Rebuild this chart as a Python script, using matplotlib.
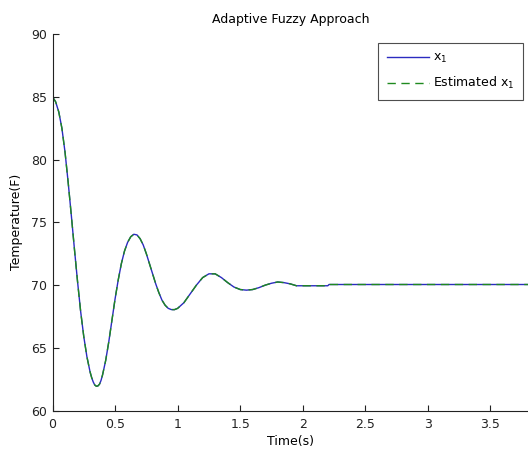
import matplotlib
matplotlib.use("Agg")
import matplotlib.pyplot as plt

# Data
time_s = [0.0, 0.025, 0.05, 0.075, 0.1, 0.125, 0.15, 0.175, 0.2, 0.225, 0.25, 0.275,
          0.3, 0.3125, 0.325, 0.3375, 0.35, 0.3625, 0.375, 0.3875, 0.4, 0.425, 0.45, 0.475,
          0.5, 0.525, 0.55, 0.575, 0.6, 0.625, 0.65, 0.675, 0.7, 0.725, 0.75, 0.775,
          0.8, 0.825, 0.85, 0.875, 0.9, 0.925, 0.95, 0.975, 1.0, 1.05, 1.1, 1.15, 1.2,
          1.25, 1.3, 1.35, 1.4, 1.45, 1.5, 1.55, 1.6, 1.65, 1.7, 1.75, 1.8, 1.85, 1.9,
          1.95, 2.0, 2.1, 2.2, 2.21, 2.5, 3.0, 3.5, 3.8]
x1 = [85.0, 84.6, 83.8, 82.5, 80.6, 78.2, 75.6, 72.9, 70.3, 67.9, 65.9, 64.3,
      63.1, 62.65, 62.3, 62.05, 61.95, 61.97, 62.1, 62.4, 62.85, 64.0, 65.5, 67.2,
      68.9, 70.4, 71.7, 72.7, 73.4, 73.85, 74.05, 74.0, 73.7, 73.2, 72.5, 71.7,
      70.9, 70.1, 69.4, 68.8, 68.4, 68.15, 68.05, 68.05, 68.15, 68.6, 69.3, 70.0, 70.6,
      70.9, 70.9, 70.6, 70.2, 69.85, 69.65, 69.6, 69.65, 69.8, 70.0, 70.15, 70.25, 70.2, 70.1,
      69.95, 69.95, 69.95, 69.95, 70.05, 70.05, 70.05, 70.05, 70.05]
x1_est = list(x1)

title = "Adaptive Fuzzy Approach"
xlabel = "Time(s)"
ylabel = "Temperature(F)"
xticks = [0, 0.5, 1, 1.5, 2, 2.5, 3, 3.5]
xticklabels = ["0", "0.5", "1", "1.5", "2", "2.5", "3", "3.5"]
yticks = [60, 65, 70, 75, 80, 85, 90]

plt.rcParams['font.family'] = ['DejaVu Sans']

fig = plt.figure(figsize=(5.28, 4.53), dpi=100)
ax = fig.add_axes([52.5 / 528, (453 - 410.7) / 453, (528 - 52.5) / 528, (410.7 - 34) / 453])

ax.plot(time_s, x1, color='#2b2bc0', lw=1.0, label=r'x$_1$')
ax.plot(time_s, x1_est, color='#1f8a1f', lw=1.0, ls=(0, (6, 4)), label=r'Estimated x$_1$')

ax.set_xlim(0, 3.8)
ax.set_ylim(60, 90)
ax.set_xticks(xticks)
ax.set_xticklabels(xticklabels)
ax.set_yticks(yticks)
ax.tick_params(direction='in', length=4, width=0.8, labelsize=9, colors='#222222', pad=4)
ax.tick_params(axis='x', pad=5)
ax.spines['top'].set_visible(False)
ax.spines['right'].set_visible(False)
for s in ('left', 'bottom'):
    ax.spines[s].set_color('#222222')
    ax.spines[s].set_linewidth(0.8)

ax.set_title(title, fontsize=9, pad=8)
ax.set_xlabel(xlabel, fontsize=9, labelpad=3)
ax.set_ylabel(ylabel, fontsize=9, labelpad=6)

leg = ax.legend(loc='upper right', bbox_to_anchor=(1.0 - 5 / 475.5, 1.0 - 8.5 / 376.7),
                fontsize=9, frameon=True, fancybox=False, edgecolor='#222222',
                handlelength=3.4, borderpad=0.7, labelspacing=0.8, handletextpad=0.3,
                borderaxespad=0)
leg.get_frame().set_linewidth(0.8)

fig.savefig("out.png", dpi=100)
